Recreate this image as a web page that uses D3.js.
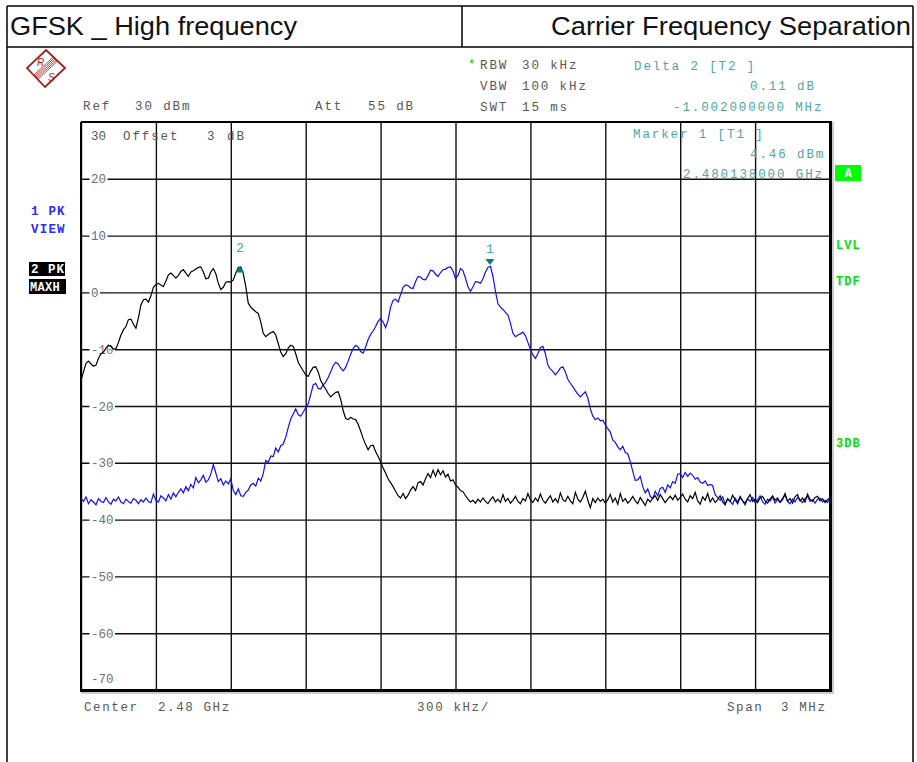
<!DOCTYPE html>
<html><head><meta charset="utf-8">
<script src="https://cdn.jsdelivr.net/npm/d3@7"></script>
<style>body{margin:0;background:#fff}svg{display:block}</style>
</head><body>
<svg id="c" width="917" height="762"></svg>
<script>
// ---- data ----
const centerLabel = "2.48 GHz";
const freqStart = -1.5;   // MHz offset from centre
const freqStep = 0.01;    // MHz per sample
const freqEnd = 1.5;
// Trace 1 (blue, PK VIEW)
const trace1 = [
-36.2,-36.8,-36.0,-37.2,-36.5,-36.9,-37.4,-36.3,-36.8,-37.0,
-36.1,-36.9,-37.3,-36.4,-36.7,-36.0,-36.9,-37.2,-36.4,-36.8,
-37.1,-36.3,-36.6,-37.2,-36.5,-36.9,-36.2,-36.8,-37.0,-35.5,
-36.6,-36.9,-35.8,-36.2,-36.7,-35.6,-36.4,-35.3,-36.0,
-35.2,-34.6,-35.3,-34.2,-34.9,-33.8,-34.4,-32.6,-33.5,-33.0,
-32.2,-33.4,-33.0,-32.0,-30.3,-31.8,-33.3,-32.8,-33.9,-33.2,
-33.7,-32.8,-34.9,-35.6,-34.6,-35.8,-35.9,-35.2,-34.8,-33.9,
-33.6,-34.1,-32.7,-33.2,-31.9,-29.6,-29.9,-28.8,-28.9,-27.4,
-28.1,-27.0,-26.7,-25.5,-23.8,-22.3,-21.4,-20.5,-21.5,-21.8,
-21.1,-20.3,-19.6,-18.0,-16.3,-16.0,-16.9,-17.0,-16.3,-15.8,
-15.0,-14.0,-12.9,-12.3,-12.6,-13.3,-13.8,-13.2,-12.1,-10.9,
-9.9,-9.3,-9.6,-10.4,-10.7,-9.6,-8.3,-7.4,-6.8,-6.0,
-5.1,-4.6,-5.2,-6.2,-4.9,-2.6,-1.4,-1.2,-1.7,-0.4,
0.9,1.3,1.2,0.8,0.7,1.9,2.8,2.7,2.3,2.2,
3.0,3.9,3.8,3.2,2.8,3.5,4.0,4.1,4.4,4.5,
3.8,2.4,3.0,4.2,3.8,2.5,1.0,0.2,1.0,1.9,
1.8,1.6,2.4,3.6,4.4,4.6,2.8,0.2,-2.0,-2.6,
-3.0,-3.5,-4.0,-5.4,-7.2,-7.8,-7.5,-7.3,-7.0,-7.6,
-8.8,-10.0,-11.0,-11.6,-10.8,-9.7,-9.5,-10.8,-12.8,-13.5,
-13.9,-14.5,-14.0,-13.3,-13.1,-14.0,-15.3,-16.0,-16.6,-17.3,
-17.9,-18.4,-17.9,-17.5,-18.6,-20.5,-21.8,-22.4,-22.1,-22.6,
-22.5,-23.3,-24.0,-24.6,-26.0,-26.4,-27.2,-27.7,-27.1,-28.2,
-28.4,-29.8,-31.5,-33.1,-33.0,-32.4,-34.2,-35.3,-34.6,-35.9,
-36.3,-35.0,-35.8,-34.5,-34.3,-35.2,-33.9,-34.4,-33.3,-33.6,
-32.0,-31.9,-32.6,-31.7,-32.4,-31.8,-32.2,-32.9,-32.6,-33.4,
-33.6,-33.2,-34.0,-33.8,-34.0,-35.6,-36.1,
-36.6,-36.0,-37.2,-36.4,-36.8,-37.3,-36.2,-36.9,-35.9,-36.7,
-37.4,-36.3,-36.8,-36.1,-37.0,-36.5,-35.8,-36.9,-37.3,-36.4,
-36.7,-36.0,-37.1,-36.5,-36.9,-36.2,-35.7,-36.8,-37.2,-36.4,
-36.9,-36.1,-36.6,-37.0,-36.3,-35.9,-36.8,-36.5,-37.1,-36.4,
-36.2,-36.9,-36.6,-37.0,-36.3
];
// Trace 2 (black, PK MAXH)
const trace2 = [
-15.5,-14.0,-12.5,-12.1,-12.6,-13.0,-12.8,-11.6,-10.8,-10.5,
-9.8,-9.3,-9.5,-10.0,-9.9,-8.8,-7.5,-6.6,-6.0,-4.8,
-4.7,-5.6,-6.3,-4.5,-2.2,-1.3,-1.2,-1.7,-0.6,0.9,
1.4,1.6,1.3,1.0,2.0,3.1,3.4,3.0,2.5,3.0,
3.7,4.0,3.4,2.8,3.6,3.8,4.1,4.4,4.5,3.6,
2.4,2.5,3.6,4.2,3.3,1.6,0.5,0.9,1.8,1.9,
1.8,2.2,3.4,4.4,4.5,3.3,1.0,-1.9,-2.6,-3.0,
-3.4,-3.7,-5.2,-7.2,-7.8,-7.4,-7.1,-6.9,-7.5,-9.0,
-10.5,-11.3,-10.8,-9.8,-9.3,-9.5,-10.8,-12.3,-13.1,-13.8,
-14.5,-14.8,-13.9,-13.2,-13.1,-14.0,-15.5,-16.3,-17.0,-17.8,
-18.4,-18.0,-17.6,-17.5,-18.8,-20.8,-22.2,-22.4,-22.0,-22.3,
-22.4,-23.2,-24.4,-25.7,-26.8,-27.7,-27.0,-26.9,-28.0,-28.9,
-29.8,-30.9,-31.8,-32.8,-33.5,-34.2,-35.0,-35.8,-36.2,-35.4,
-36.3,-35.7,-34.8,-34.2,-34.9,-33.5,-33.3,-33.9,-32.8,-31.9,
-32.6,-31.3,-32.4,-31.2,-32.1,-31.4,-32.5,-32.0,-33.2,-33.0,
-33.9,-34.3,-34.9,-35.1,-35.8,-36.4,-36.9,
-36.6,-37.1,-36.4,-36.9,-36.2,-36.8,-37.2,-36.5,-36.0,-36.9,
-36.4,-37.0,-35.6,-36.8,-36.3,-37.1,-36.6,-35.9,-36.8,-37.2,
-36.3,-36.7,-35.4,-36.5,-37.0,-36.2,-36.8,-35.5,-36.6,-37.1,
-36.4,-35.8,-36.9,-36.3,-37.0,-35.3,-36.5,-36.8,-35.9,-36.7,
-37.2,-35.2,-36.4,-36.9,-36.1,-35.0,-36.6,-37.9,-36.3,-37.0,
-36.2,-36.8,-36.4,-37.1,-36.5,-35.6,-36.9,-36.2,-37.3,-35.4,
-36.8,-36.3,-37.1,-36.6,-35.9,-36.7,-37.2,-36.1,-36.8,-37.5,
-36.4,-36.9,-36.2,-35.8,-36.6,-35.6,-36.3,-37.0,-36.4,-35.9,
-36.5,-35.7,-36.6,-36.1,-35.5,-36.4,-36.9,-35.8,-36.3,-35.2,
-36.7,-37.3,-36.0,-36.6,-35.4,-36.9,-36.2,-37.0,-36.5,-35.8,
-36.9,-37.4,-36.3,-36.8,-35.7,-36.5,-37.2,-36.1,-36.7,-37.1,
-36.3,-35.6,-36.8,-36.4,-37.0,-36.2,-35.9,-36.7,-37.1,-36.4,
-35.8,-36.6,-36.2,-37.0,-36.5,-35.4,-36.8,-36.3,-37.1,-36.0,
-35.6,-36.7,-36.2,-36.9,-35.5,-36.4,-36.8,-36.1,-35.9,-36.7,
-36.3,-37.0,-36.5,-36.2
];
const yTickValues = [20, 10, 0, -10, -20, -30, -40, -50, -60];
const yTickLabels = ["20", "10", "0", "-10", "-20", "-30", "-40", "-50", "-60"];
const xGridValues = [-1.5, -1.2, -0.9, -0.6, -0.3, 0, 0.3, 0.6, 0.9, 1.2, 1.5];
const markers = [
  {n: "1", f: 0.138, v: 4.46, dir: "down"},
  {n: "2", f: -0.864, v: 4.57, dir: "up"}
];

// ---- drawing ----
const svg = d3.select("#c");
const L = 81, R = 830, T = 122, B = 690;
const x = d3.scaleLinear().domain([freqStart, freqEnd]).range([L, R]);
const y = d3.scaleLinear().domain([-70, 30]).range([B, T]);

const mono = "'Liberation Mono','DejaVu Sans Mono',monospace";
const gray = "#585858", teal = "#4ea6a6", green = "#00e000";

// outer page frame
const frame = svg.append("g").attr("stroke", "#000").attr("stroke-width", 1.5).attr("fill", "none");
frame.append("line").attr("x1", 7).attr("x2", 913).attr("y1", 6).attr("y2", 6);
frame.append("line").attr("x1", 7).attr("x2", 913).attr("y1", 47).attr("y2", 47);
frame.append("line").attr("x1", 7).attr("x2", 7).attr("y1", 6).attr("y2", 762);
frame.append("line").attr("x1", 913).attr("x2", 913).attr("y1", 6).attr("y2", 762);
frame.append("line").attr("x1", 462).attr("x2", 462).attr("y1", 6).attr("y2", 47);

svg.append("text").attr("x", 10).attr("y", 35).text("GFSK _ High frequency")
  .attr("font-family", "'Liberation Sans',Arial,sans-serif").attr("font-size", 26)
  .attr("textLength", 287).attr("lengthAdjust", "spacingAndGlyphs").attr("fill", "#111");
svg.append("text").attr("x", 551).attr("y", 35).text("Carrier Frequency Separation")
  .attr("font-family", "'Liberation Sans',Arial,sans-serif").attr("font-size", 26)
  .attr("textLength", 360).attr("lengthAdjust", "spacingAndGlyphs").attr("fill", "#111");

// R&S logo
const logo = svg.append("g").attr("stroke", "#a0201e").attr("fill", "none");
logo.append("path").attr("d", "M46,50 L65,68 L45,87 L27,68 Z").attr("stroke-width", 1.8);
[-3, -1.5, 0, 1.5, 3].forEach(o => {
  logo.append("line").attr("x1", 35.5 + o * 0.7).attr("y1", 77.5 + o * 0.7)
    .attr("x2", 55.5 + o * 0.7).attr("y2", 59 + o * 0.7).attr("stroke-width", 0.8);
});
svg.append("text").attr("x", 37).attr("y", 66).text("R").attr("font-family", "'Liberation Sans',sans-serif")
  .attr("font-size", 10).attr("font-style", "italic").attr("fill", "#a0201e");
svg.append("text").attr("x", 48).attr("y", 81).text("S").attr("font-family", "'Liberation Sans',sans-serif")
  .attr("font-size", 10).attr("font-style", "italic").attr("fill", "#a0201e");

// instrument text segments
function t(str, px, cy, color, opts = {}) {
  const el = svg.append("text").attr("x", px).attr("y", cy + 4.5).text(str)
    .attr("font-family", mono).attr("font-size", opts.size || 12.5)
    .attr("letter-spacing", opts.ls !== undefined ? opts.ls : 1.9)
    .attr("fill", color).attr("xml:space", "preserve");
  if (opts.bold) el.attr("font-weight", "bold");
  if (opts.anchor) el.attr("text-anchor", opts.anchor);
  return el;
}
t("Ref", 83, 105, gray); t("30 dBm", 135, 105, gray);
t("Att", 315, 105, gray); t("55 dB", 368, 105, gray);
t("*", 468, 63, "#00c000", {ls: 0});
t("RBW", 480, 64, gray); t("30 kHz", 522, 64, gray);
t("VBW", 480, 85, gray); t("100 kHz", 522, 85, gray);
t("SWT", 480, 106, gray); t("15 ms", 522, 106, gray);
t("Delta 2 [T2 ]", 634, 65, teal);
t("0.11 dB", 750, 85, teal);
t("-1.002000000 MHz", 673, 106, teal);

// grid
const grid = svg.append("g");
grid.append("g").attr("transform", `translate(0,${B})`)
  .call(d3.axisBottom(x).tickValues(xGridValues).tickSize(-(B - T)).tickFormat(""))
  .call(g => g.select(".domain").remove())
  .call(g => g.selectAll("line").attr("stroke", "#111").attr("stroke-width", 1.4));
grid.append("g").attr("transform", `translate(${L},0)`)
  .call(d3.axisLeft(y).tickValues(yTickValues).tickSize(-(R - L)).tickFormat(""))
  .call(g => g.select(".domain").remove())
  .call(g => g.selectAll("line").attr("stroke", "#111").attr("stroke-width", 1.4));

// y tick labels with gaps in the grid line
yTickValues.forEach((v, i) => {
  const lab = yTickLabels[i];
  const w = lab.length * 7.5;
  svg.append("rect").attr("x", 89.5).attr("y", y(v) - 2).attr("width", w + 3).attr("height", 4).attr("fill", "#fff");
  svg.append("text").attr("x", 91).attr("y", y(v) + 4.5).text(lab)
    .attr("font-family", mono).attr("font-size", 12.5).attr("fill", "#707070");
});
svg.append("text").attr("x", 91).attr("y", 683).text("-70")
  .attr("font-family", mono).attr("font-size", 12.5).attr("fill", "#707070");
t("30", 91, 135, gray, {ls: 0}); t("Offset", 123, 135, gray); t("3", 207, 135, gray); t("dB", 227, 135, gray);

// plot frame
const pf = svg.append("g").attr("stroke", "#000").attr("fill", "none");
pf.append("line").attr("x1", L).attr("x2", R).attr("y1", T).attr("y2", T).attr("stroke-width", 2);
pf.append("line").attr("x1", L).attr("x2", L).attr("y1", T).attr("y2", B).attr("stroke-width", 2);
pf.append("line").attr("x1", R + 0.5).attr("x2", R + 0.5).attr("y1", T - 1).attr("y2", B + 2).attr("stroke-width", 3);
pf.append("line").attr("x1", L - 1).attr("x2", R + 2).attr("y1", B + 0.5).attr("y2", B + 0.5).attr("stroke-width", 3);
pf.append("line").attr("x1", R + 3).attr("x2", R + 3).attr("y1", T).attr("y2", B + 3).attr("stroke", "#999").attr("stroke-width", 1);
pf.append("line").attr("x1", L).attr("x2", R + 3).attr("y1", B + 3).attr("y2", B + 3).attr("stroke", "#999").attr("stroke-width", 1);

// marker 1 readout (over grid)
t("Marker 1 [T1 ]", 633, 133, teal);
t("4.46 dBm", 750, 153, teal);
t("2.480138000 GHz", 683, 173, teal);

// traces
svg.append("clipPath").attr("id", "clip").append("rect").attr("x", L).attr("y", T).attr("width", R - L).attr("height", B - T);
const line = d3.line().x((d, i) => x(freqStart + i * freqStep)).y(d => y(d));
const tr = svg.append("g").attr("clip-path", "url(#clip)");
tr.append("path").datum(trace1).attr("d", line).attr("fill", "none").attr("stroke", "#1010ff").attr("stroke-width", 1.2);
tr.append("path").datum(trace2).attr("d", line).attr("fill", "none").attr("stroke", "#000").attr("stroke-width", 1.2);

// markers
markers.forEach(m => {
  const mx = x(m.f), my = y(m.v);
  const pts = m.dir === "down"
    ? [[mx - 4.5, my - 8], [mx + 4.5, my - 8], [mx, my - 2]]
    : [[mx - 4.5, my + 6], [mx + 4.5, my + 6], [mx, my]];
  svg.append("path").attr("d", "M" + pts.map(p => p.join(",")).join("L") + "Z").attr("fill", "#008080");
  svg.append("text").attr("x", mx).attr("y", my - 14).text(m.n).attr("text-anchor", "middle")
    .attr("font-family", mono).attr("font-size", 13).attr("fill", teal);
});

// left side labels
t("1 PK", 31, 210, "#2b2bff", {bold: true, size: 12.5, ls: 1.2});
t("VIEW", 31, 228, "#2b2bff", {bold: true, size: 12.5, ls: 1.2});
svg.append("rect").attr("x", 29).attr("y", 262).attr("width", 36).attr("height", 14).attr("fill", "#000");
svg.append("rect").attr("x", 29).attr("y", 279).attr("width", 37).attr("height", 15).attr("fill", "#000");
t("2 PK", 31, 268.5, "#fff", {bold: true, size: 12.5, ls: 1.0});
t("MAXH", 30, 286.5, "#fff", {bold: true, size: 12, ls: 0.3});

// right side labels
svg.append("rect").attr("x", 835).attr("y", 165).attr("width", 26).attr("height", 16).attr("fill", "#00ff00");
t("A", 848, 172.5, "#fff", {bold: true, size: 12, ls: 0, anchor: "middle"});
t("LVL", 836, 244, green, {bold: true, size: 12, ls: 1.0});
t("TDF", 836, 280, green, {bold: true, size: 12, ls: 1.0});
t("3DB", 836, 442, green, {bold: true, size: 12, ls: 1.0});

// bottom labels
t("Center", 84, 706, gray, {ls: 1.6}); t(centerLabel, 158, 706, gray, {ls: 1.6});
t("300 kHz/", 417, 706, gray, {ls: 1.6});
t("Span", 727, 706, gray, {ls: 1.6}); t("3 MHz", 781, 706, gray, {ls: 1.6});
</script>
</body></html>
